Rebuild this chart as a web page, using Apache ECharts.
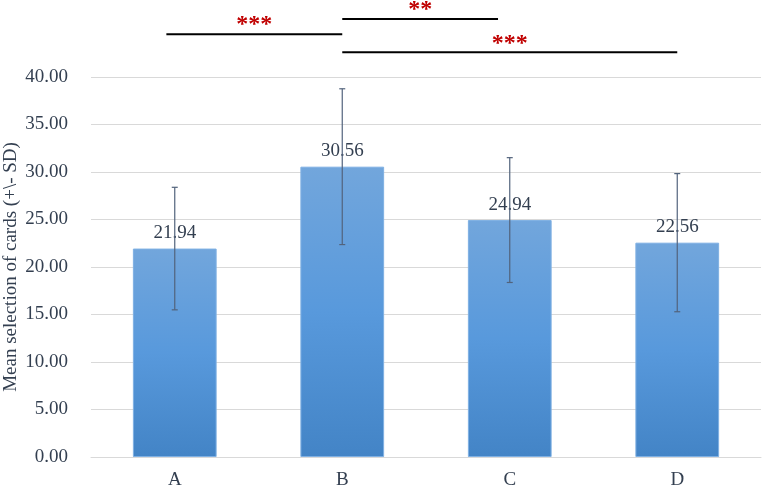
<!DOCTYPE html>
<html>
<head>
<meta charset="utf-8">
<script src="https://cdn.jsdelivr.net/npm/echarts@6/dist/echarts.min.js"></script>
<style>
  html, body { margin: 0; padding: 0; background: #fff; }
  #chart { width: 765px; height: 489px; }
</style>
</head>
<body>
<div id="chart"></div>
<script>
// chart data
const categories = ['A', 'B', 'C', 'D'];
const means = [21.94, 30.56, 24.94, 22.56];
const sds = [6.45, 8.20, 6.57, 7.27];

// significance brackets: start category, end category, height (axis units)
const bracketFrom = [-0.05, 1, 1];
const bracketTo = [1, 1.93, 3];
const bracketLevel = [44.5, 46.1, 42.6];
const bracketStars = ['***', '**', '***'];

const serif = '"Liberation Serif", "Times New Roman", serif';
const textColor = '#333f50';

const chart = echarts.init(document.getElementById('chart'));

const errData = means.map((m, i) => [i, m - sds[i], m + sds[i]]);
const bracketData = bracketFrom.map((f, i) => [f, bracketTo[i], bracketLevel[i]]);

// category position that also allows a fraction of a band
const catPoint = (api, pos, level) => {
    const base = Math.round(pos);
    const p = api.coord([base, level]);
    const band = api.size([1, 0])[0];
    return [p[0] + (pos - base) * band, p[1]];
};

const option = {
    animation: false,
    grid: {
        left: 91,
        right: 4,
        top: 77,
        bottom: 32,
        outerBoundsMode: 'none'
    },
    xAxis: {
        type: 'category',
        data: categories,
        axisTick: { show: false },
        axisLine: { lineStyle: { color: '#d9d9d9', width: 1 } },
        axisLabel: {
            margin: 14,
            fontFamily: serif,
            fontSize: 19,
            color: textColor
        }
    },
    yAxis: {
        type: 'value',
        min: 0,
        max: 40,
        interval: 5,
        name: 'Mean selection of cards (+\\- SD)',
        nameLocation: 'middle',
        nameGap: 70,
        nameMoveOverlap: false,
        nameTextStyle: {
            fontFamily: serif,
            fontSize: 19,
            color: textColor
        },
        axisLine: { show: false },
        axisTick: { show: false },
        splitLine: { lineStyle: { color: '#d9d9d9', width: 1 } },
        axisLabel: {
            margin: 23,
            fontFamily: serif,
            fontSize: 19,
            color: textColor,
            formatter: v => v.toFixed(2)
        }
    },
    series: [
        {
            type: 'bar',
            data: means,
            barWidth: '50%',
            itemStyle: {
                borderColor: '#7fb0e3',
                borderWidth: 1,
                color: new echarts.graphic.LinearGradient(0, 0, 0, 1, [
                    { offset: 0, color: '#72a6dc' },
                    { offset: 0.5, color: '#5899dc' },
                    { offset: 1, color: '#4384c6' }
                ])
            },
            label: {
                show: true,
                position: 'top',
                distance: 6,
                fontFamily: serif,
                fontSize: 19,
                color: textColor,
                formatter: p => p.value.toFixed(2)
            },
            z: 2
        },
        {
            // error bars (+/- SD)
            type: 'custom',
            data: errData,
            z: 3,
            renderItem: (params, api) => {
                const x = api.value(0);
                const lo = api.coord([x, api.value(1)]);
                const hi = api.coord([x, api.value(2)]);
                const cap = 3;
                const style = { stroke: '#52637c', lineWidth: 1.2 };
                return {
                    type: 'group',
                    children: [
                        { type: 'line', shape: { x1: lo[0], y1: lo[1], x2: hi[0], y2: hi[1] }, style },
                        { type: 'line', shape: { x1: hi[0] - cap, y1: hi[1], x2: hi[0] + cap, y2: hi[1] }, style },
                        { type: 'line', shape: { x1: lo[0] - cap, y1: lo[1], x2: lo[0] + cap, y2: lo[1] }, style }
                    ]
                };
            }
        },
        {
            // significance brackets
            type: 'custom',
            data: bracketData,
            clip: false,
            z: 4,
            renderItem: (params, api) => {
                const a = catPoint(api, api.value(0), api.value(2));
                const b = catPoint(api, api.value(1), api.value(2));
                return {
                    type: 'group',
                    children: [
                        {
                            type: 'line',
                            shape: { x1: a[0], y1: a[1], x2: b[0], y2: b[1] },
                            style: { stroke: '#000', lineWidth: 2 }
                        },
                        {
                            type: 'text',
                            x: (a[0] + b[0]) / 2,
                            y: a[1] + 3,
                            style: {
                                text: bracketStars[params.dataIndex],
                                fontFamily: serif,
                                fontSize: 24,
                                fontWeight: 'bold',
                                fill: '#c00000',
                                align: 'center',
                                verticalAlign: 'bottom'
                            }
                        }
                    ]
                };
            }
        }
    ]
};

chart.setOption(option);
</script>
</body>
</html>
